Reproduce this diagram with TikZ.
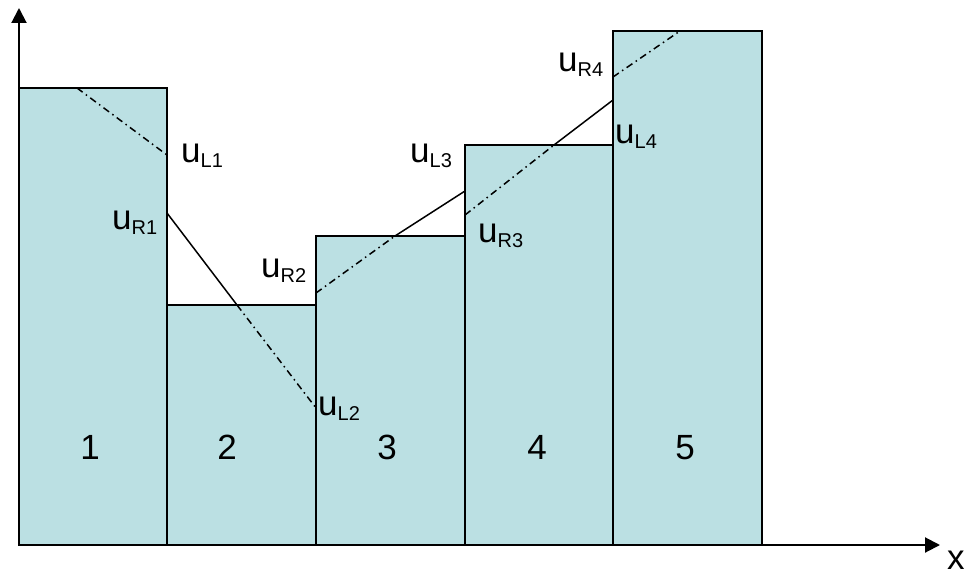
\documentclass[tikz,border=0pt]{standalone}
\usepackage{fontspec}
\setmainfont{Liberation Sans}
\usetikzlibrary{arrows.meta}
\definecolor{barfill}{RGB}{187,224,227}
\tikzset{
  bar/.style={fill=barfill, draw=black, line width=1.7pt},
  axisline/.style={line width=2pt, -{Triangle[length=15pt,width=15pt]}},
  solidline/.style={line width=1.5pt},
  dashdotline/.style={line width=1.5pt, dash pattern=on 7pt off 4pt on 1.5pt off 4pt},
  lab/.style={anchor=base west, inner sep=0pt, font=\fontsize{35}{40}\selectfont},
  num/.style={anchor=base, inner sep=0pt, font=\fontsize{35}{40}\selectfont}
}
\newcommand{\usub}[1]{u\raisebox{-5pt}{\fontsize{20}{20}\selectfont #1}}
\begin{document}
\begin{tikzpicture}[x=1pt,y=-1pt]
\useasboundingbox (0,0) rectangle (971,575);
% bars
\draw[bar] (19,88) rectangle (167,545);
\draw[bar] (167,305) rectangle (316,545);
\draw[bar] (316,236) rectangle (465,545);
\draw[bar] (465,145) rectangle (613,545);
\draw[bar] (613,31) rectangle (762,545);
% reconstruction lines
\coordinate (a1) at (77,88);
\coordinate (pL1) at (167,155);
\coordinate (pR1) at (167,213);
\coordinate (c2) at (237,305);
\coordinate (pL2) at (316,408);
\coordinate (pR2) at (316,293);
\coordinate (c3) at (395,236);
\coordinate (pL3) at (465,191);
\coordinate (pR3) at (465,215);
\coordinate (c4) at (554,145);
\coordinate (pL4) at (613,100);
\coordinate (pR4) at (613,77);
\coordinate (c5) at (680,31);
\draw[dashdotline] (a1) -- (pL1);
\draw[solidline] (pR1) -- (c2);
\draw[dashdotline] (c2) -- (pL2);
\draw[dashdotline] (pR2) -- (c3);
\draw[solidline] (c3) -- (pL3);
\draw[dashdotline] (pR3) -- (c4);
\draw[solidline] (c4) -- (pL4);
\draw[dashdotline] (pR4) -- (c5);
% axes
\coordinate (o) at (19,545);
\coordinate (ytip) at (19,8);
\coordinate (xtip) at (940,545);
\draw[axisline] (o) -- (ytip);
\draw[axisline] (o) -- (xtip);
% labels
\node[lab] (tL1) at (181,162) {\usub{L1}};
\node[lab] (tR1) at (112,229) {\usub{R1}};
\node[lab] (tR2) at (261,277) {\usub{R2}};
\node[lab] (tL2) at (318,415) {\usub{L2}};
\node[lab] (tL3) at (410,162) {\usub{L3}};
\node[lab] (tR3) at (478,242) {\usub{R3}};
\node[lab] (tR4) at (558,72) {\usub{R4}};
\node[lab] (tL4) at (615,143) {\usub{L4}};
% cell numbers
\node[num] (n1) at (90,459) {1};
\node[num] (n2) at (227,459) {2};
\node[num] (n3) at (387,459) {3};
\node[num] (n4) at (537,459) {4};
\node[num] (n5) at (685,459) {5};
\node[lab, font=\fontsize{35}{40}\selectfont] (xl) at (947,569) {x};
\end{tikzpicture}
\end{document}
